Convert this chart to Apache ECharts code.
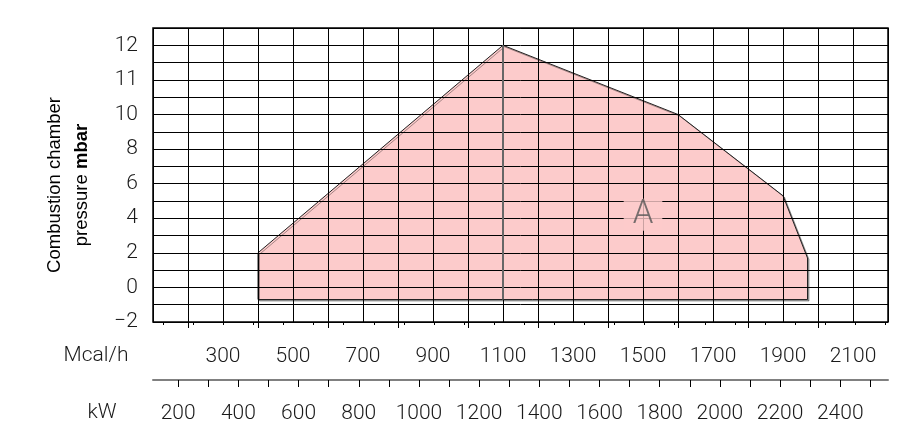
<!DOCTYPE html>
<html>
<head>
<meta charset="utf-8">
<title>Combustion chamber pressure</title>
<script src="https://cdn.jsdelivr.net/npm/echarts@6/dist/echarts.min.js"></script>
<style>
  html, body { margin: 0; padding: 0; background: #fff; }
  #chart { width: 923px; height: 427px; }
</style>
</head>
<body>
<div id="chart"></div>
<script>
// working field outline, Mcal/h against mbar
const envelopeMcal = [400, 400, 1100, 1600, 1900, 1970, 1970];
const envelopeMbar = [-0.7, 2, 12, 10, 5.3, 1.7, -0.7];
// vertical split under the peak
const dividerMcal = [1100, 1100];
const dividerMbar = [12, -0.7];
const zoneName = "A";
const zoneMcal = 1500;
const zoneMbar = 4.2;

const mcalLabels = [300, 500, 700, 900, 1100, 1300, 1500, 1700, 1900, 2100];
const kwLabels = [200, 400, 600, 800, 1000, 1200, 1400, 1600, 1800, 2000, 2200, 2400];
const mbarLabels = [-2, 0, 2, 4, 6, 8, 10, 11, 12];
const KW_PER_MCAL = 1.163;

const MCAL_MIN = 100, MCAL_MAX = 2200;
const KW_MIN = 100, KW_MAX = 2550;

// pressure scale: one grid row per mbar up to 10, half a mbar per row above
const toRow = (p) => (p <= 10 ? p + 2 : 12 + (p - 10) * 2);
const fromRow = (r) => (r <= 12 ? r - 2 : 10 + (r - 12) / 2);

const G = { left: 153, top: 28, width: 735, height: 294 };
const kwX = (kw) => G.left + (kw / KW_PER_MCAL - MCAL_MIN) / (MCAL_MAX - MCAL_MIN) * G.width;

const mcalSteps = [];
for (let v = MCAL_MIN; v <= MCAL_MAX; v += 100) mcalSteps.push(String(v));
const kwSteps = [];
for (let v = KW_MIN; v <= KW_MAX; v += 50) kwSteps.push(String(v));

const labelFont = { fontFamily: "Roboto", fontWeight: 300, fontSize: 21, color: "#1a1a1a" };

const chart = echarts.init(document.getElementById("chart"), null, { renderer: "canvas" });

chart.setOption({
  animation: false,
  backgroundColor: "#fff",
  grid: [
    { left: G.left, top: G.top, width: G.width, height: G.height, show: true, borderColor: "#000", borderWidth: 1.5 },
    { left: kwX(KW_MIN), top: G.top, width: kwX(KW_MAX) - kwX(KW_MIN), height: G.height, show: false },
  ],
  graphic: [
    { type: "text", x: 96, y: 356, style: { text: "Mcal/h", font: "300 21px Roboto", fill: "#1a1a1a", align: "center", verticalAlign: "middle" } },
    { type: "text", x: 102, y: 413, style: { text: "kW", font: "300 21px Roboto", fill: "#1a1a1a", align: "center", verticalAlign: "middle" } },
  ],
  xAxis: [
    {
      type: "value", gridIndex: 0, min: MCAL_MIN, max: MCAL_MAX, interval: 100, z: 3,
      axisLine: { show: false }, axisTick: { show: false }, axisLabel: { show: false },
      splitLine: { show: true, lineStyle: { color: "#000", width: 1 } },
    },
    {
      type: "category", gridIndex: 0, position: "bottom", data: mcalSteps, boundaryGap: false,
      axisLine: { show: false },
      axisTick: { show: true, interval: (i, v) => +v % 200 === 0 && +v < MCAL_MAX, length: 6, lineStyle: { color: "#000" } },
      axisLabel: { interval: (i, v) => mcalLabels.includes(+v), margin: 24, ...labelFont },
      splitLine: { show: false },
    },
    {
      type: "value", gridIndex: 0, position: "bottom", offset: 58, min: MCAL_MIN, max: MCAL_MAX,
      axisLine: { show: true, lineStyle: { color: "#808080", width: 2 } },
      axisTick: { show: false }, axisLabel: { show: false }, splitLine: { show: false },
    },
    {
      type: "category", gridIndex: 1, position: "bottom", offset: 58, data: kwSteps, boundaryGap: false,
      axisLine: { show: false },
      axisTick: { show: true, interval: (i, v) => +v % 100 === 50, length: 3, lineStyle: { color: "#000" } },
      axisLabel: { show: false }, splitLine: { show: false },
    },
    {
      type: "category", gridIndex: 1, position: "bottom", offset: 58, data: kwSteps, boundaryGap: false,
      axisLine: { show: false },
      axisTick: { show: true, interval: (i, v) => +v % 100 === 0 && +v >= 200, length: 7, lineStyle: { color: "#000" } },
      axisLabel: { interval: (i, v) => kwLabels.includes(+v), margin: 23, ...labelFont },
      splitLine: { show: false },
    },
  ],
  yAxis: [
    {
      type: "value", gridIndex: 0, min: 0, max: 17, interval: 1, z: 3,
      axisLine: { show: false }, axisTick: { show: false },
      splitLine: { show: true, lineStyle: { color: "#000", width: 1 } },
      axisLabel: {
        margin: 15, ...labelFont,
        formatter: (r) => {
          const p = fromRow(r);
          if (!mbarLabels.includes(p)) return "";
          return p < 0 ? "\u2212" + Math.abs(p) : String(p);
        },
      },
      name: "{n|Combustion chamber}\n{n|pressure }{b|mbar}",
      nameLocation: "middle",
      nameRotate: 90,
      nameGap: 58,
      nameTextStyle: {
        padding: [0, 20, 0, 0],
        rich: {
          n: { fontFamily: "Liberation Sans", fontSize: 18.5, color: "#000", lineHeight: 27 },
          b: { fontFamily: "Liberation Sans", fontSize: 18.5, fontWeight: "bold", color: "#000", lineHeight: 27 },
        },
      },
    },
    { type: "value", gridIndex: 1, min: 0, max: 17, show: false },
  ],
  series: [
    {
      type: "custom",
      xAxisIndex: 0, yAxisIndex: 0, z: 1, silent: true, clip: false,
      data: envelopeMcal.map((m, i) => [m, toRow(envelopeMbar[i])]),
      renderItem: (params, api) => {
        if (params.dataIndex !== 0) return null;
        const points = envelopeMcal.map((m, i) => api.coord([m, toRow(envelopeMbar[i])]));
        return {
          type: "polygon",
          shape: { points },
          style: {
            fill: "#fccbcb", stroke: "#222", lineWidth: 1,
            shadowColor: "rgba(0,0,0,0.35)", shadowOffsetX: 1.5, shadowOffsetY: 1.5, shadowBlur: 0,
          },
        };
      },
    },
    {
      type: "line",
      xAxisIndex: 0, yAxisIndex: 0, z: 4, silent: true,
      symbol: "none",
      lineStyle: { color: "#666", width: 2 },
      data: dividerMcal.map((m, i) => [m, toRow(dividerMbar[i])]),
    },
    {
      type: "scatter",
      xAxisIndex: 0, yAxisIndex: 0, z: 10, silent: true,
      symbolSize: 0,
      data: [[zoneMcal, toRow(zoneMbar)]],
      label: {
        show: true, position: "inside", formatter: zoneName,
        fontFamily: "Roboto", fontWeight: 300, fontSize: 33, color: "#555",
        backgroundColor: "#fccbcb", padding: [1, 9], lineHeight: 30,
      },
    },
  ],
});
</script>
</body>
</html>
